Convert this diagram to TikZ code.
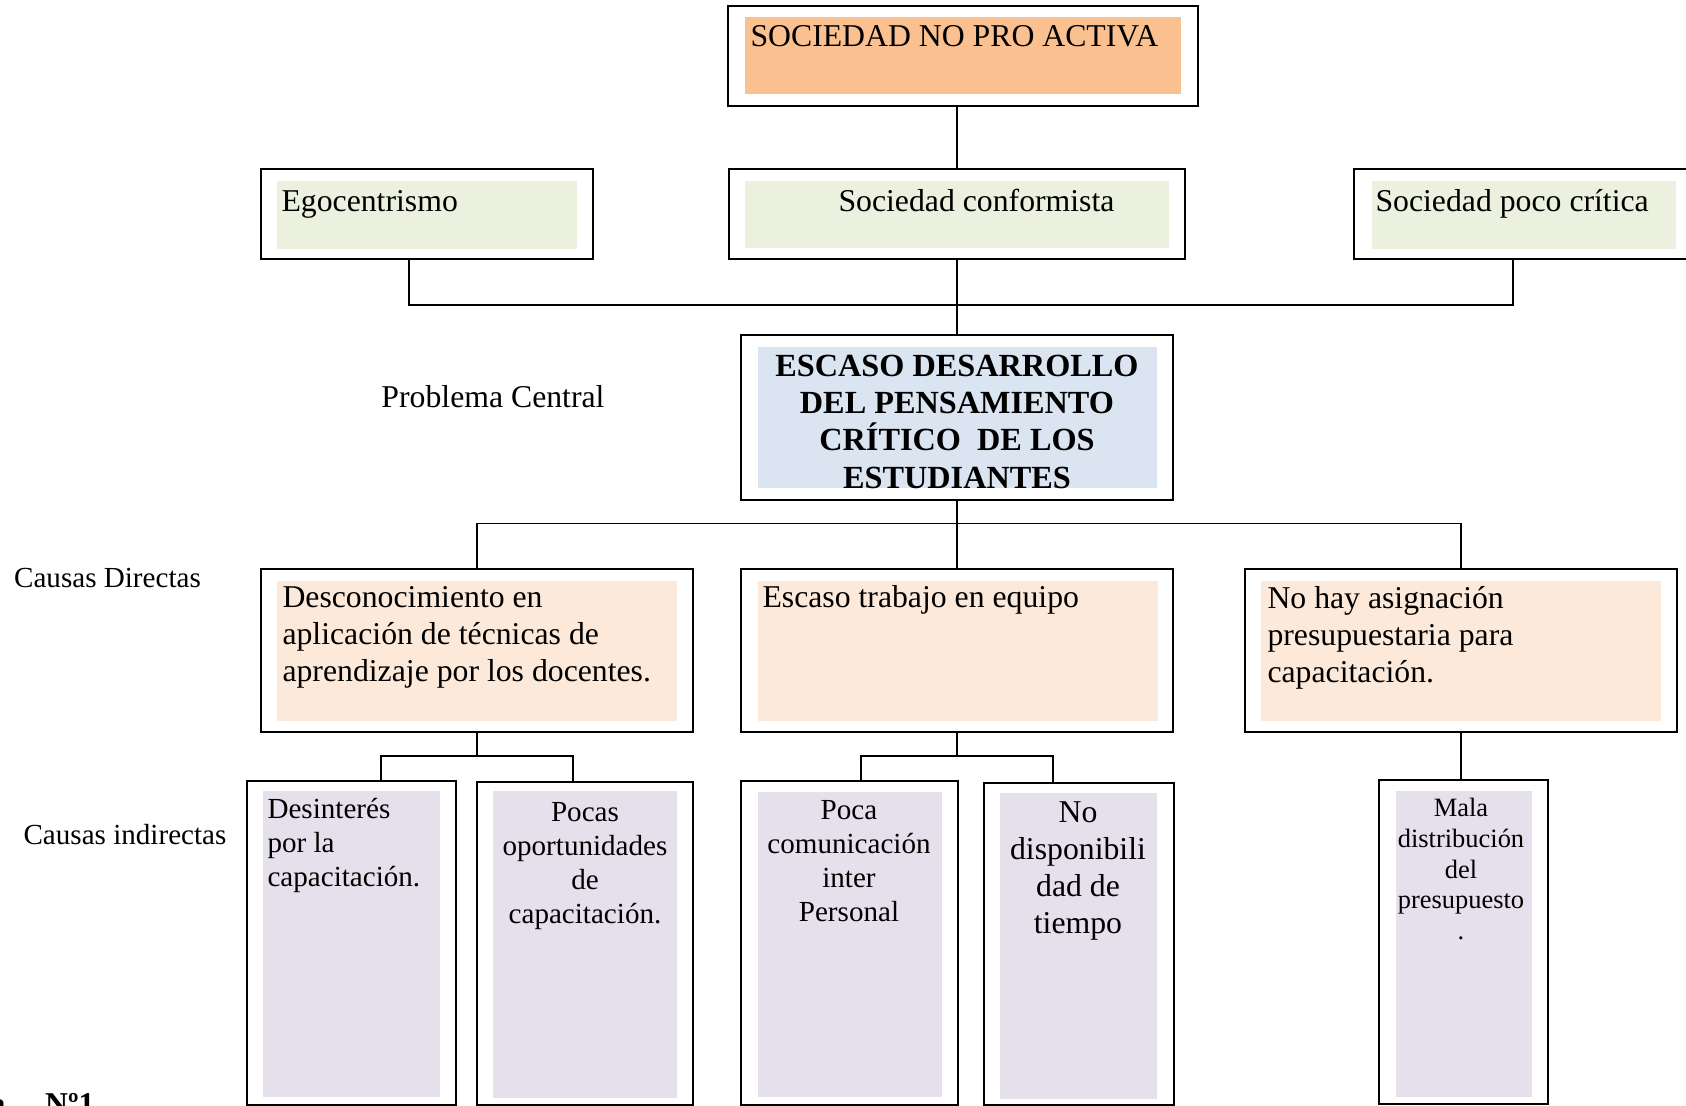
\documentclass[tikz,border=0pt]{standalone}
\usepackage{fontspec}
\setmainfont{Liberation Serif}
\usetikzlibrary{positioning, calc}
\definecolor{naranja}{RGB}{250,192,144}
\definecolor{verde}{RGB}{235,241,222}
\definecolor{azul}{RGB}{219,229,241}
\definecolor{durazno}{RGB}{253,233,217}
\definecolor{lila}{RGB}{229,224,236}

\begin{document}
\begin{tikzpicture}[x=0.378pt, y=-0.378pt,
            marco/.style 2 args={rectangle, draw=black, line width=0.7pt, fill=white, inner sep=0pt, minimum width=#1*0.378pt, minimum height=#2*0.378pt},
            relleno/.style n args={3}{rectangle, fill=#1, inner sep=0pt, minimum width=#2*0.378pt, minimum height=#3*0.378pt},
            rotulo/.style={inner sep=0pt, font=\fontsize{12}{14}\selectfont},
            causa/.style={inner sep=0pt, anchor=north west, align=left, font=\fontsize{12}{14}\selectfont},
            indirecta/.style={inner sep=0pt, anchor=north, align=center, font=\fontsize{11}{12.85}\selectfont},
            etiqueta/.style={inner sep=0pt, font=\fontsize{11}{13}\selectfont},
            link/.style={line width=0.7pt, black}
        ]
            \useasboundingbox (0,0) rectangle (1686,1106);
            \clip (0,0) rectangle (1686,1106);

            % efectos
            \node[marco={470}{100}] (arriba) at (963,56) {};
            \node[relleno={naranja}{436}{77}] (arribaf) at (963,55.5) {};
            \node[rotulo, anchor=base west] (arribat) at (750,47) {SOCIEDAD NO PRO ACTIVA};

            \node[marco={332}{90}] (ego) at (427,214) {};
            \node[relleno={verde}{300}{68}] (egof) at (427,215) {};
            \node[rotulo, anchor=base west] (egot) at (281,212) {Egocentrismo};

            \node[marco={456}{90}] (conf) at (957,214) {};
            \node[relleno={verde}{424}{67}] (conff) at (957,214.5) {};
            \node[rotulo, anchor=base west] (conft) at (838,212) {Sociedad conformista};

            \node[marco={346}{90}] (poca) at (1527,214) {};
            \node[relleno={verde}{304}{68}] (pocaf) at (1524,215) {};
            \node[rotulo, anchor=base west] (pocat) at (1375,212) {Sociedad poco crítica};

            % problema central
            \node[marco={432}{165}] (prob) at (957,417.5) {};
            \node[relleno={azul}{399}{141}] (probf) at (957.5,417.5) {};
            \node[inner sep=0pt, anchor=north, align=center, font=\fontsize{12.2}{14}\selectfont\bfseries] (probt) at (957,355)
                {ESCASO DESARROLLO\\DEL PENSAMIENTO\\CRÍTICO\ \ DE LOS\\ESTUDIANTES};
            \node[rotulo] (central) at (493,397) {Problema Central};

            % causas directas
            \node[etiqueta] (directas) at (107.5,578.5) {Causas Directas};

            \node[marco={432}{163}] (dc1) at (477,650.5) {};
            \node[relleno={durazno}{400}{140}] (dc1f) at (477,651) {};
            \node[causa] (dc1t) at (282,586) {Desconocimiento en\\aplicación de técnicas de\\aprendizaje por los docentes.};

            \node[marco={432}{163}] (dc2) at (957,650.5) {};
            \node[relleno={durazno}{400}{140}] (dc2f) at (958,651) {};
            \node[rotulo, anchor=base west] (dc2t) at (762,608) {Escaso trabajo en equipo};

            \node[marco={432}{163}] (dc3) at (1461,650.5) {};
            \node[relleno={durazno}{400}{140}] (dc3f) at (1461,651) {};
            \node[causa] (dc3t) at (1267,586) {No hay asignación\\presupuestaria para\\capacitación.};

            % causas indirectas
            \node[etiqueta] (indirectas) at (125,834.5) {Causas indirectas};

            \node[marco={209}{324}] (ia) at (351.5,943) {};
            \node[relleno={lila}{177}{306}] (iaf) at (351.5,944) {};
            \node[indirecta, anchor=north west, align=left] (iat) at (267,798) {Desinterés\\por la\\capacitación.};

            \node[marco={216}{323}] (ib) at (585,943.5) {};
            \node[relleno={lila}{184}{307}] (ibf) at (585,944.5) {};
            \node[indirecta] (ibt) at (585,801.5) {Pocas\\oportunidades\\de\\capacitación.};

            \node[marco={217}{324}] (ic) at (849.5,943) {};
            \node[relleno={lila}{184}{305}] (icf) at (850,944.5) {};
            \node[indirecta] (ict) at (849,799.5) {Poca\\comunicación\\inter\\Personal};

            \node[marco={190}{322}] (id) at (1079,944) {};
            \node[relleno={lila}{157}{306}] (idf) at (1078.5,946) {};
            \node[indirecta, font=\fontsize{12}{14}\selectfont] (idt) at (1078,801) {No\\disponibili\\dad de\\tiempo};

            \node[marco={169}{324}] (ie) at (1463.5,942) {};
            \node[relleno={lila}{136}{306}] (ief) at (1464,944) {};
            \node[indirecta, font=\fontsize{10}{11.6}\selectfont] (iet) at (1461,798) {Mala\\distribución\\del\\presupuesto\\.};

            \node[inner sep=0pt, anchor=base east, font=\fontsize{12}{14}\selectfont\bfseries] (fig) at (95,1114) {Figura\hspace{15pt}Nº1};

            % conectores
            \draw[link] (conf.north) -- (conf.north |- arriba.south);
            \draw[link] (conf.south) -- (prob.north);
            \draw[link] ($(ego.south)+(-18,0)$) -- ++(0,45) -| ($(poca.south)+(-14,0)$);

            \draw[link] (prob.south) -- ++(0,22.6) coordinate (nudo);
            \draw[link] (dc1.north) |- (nudo) -| (dc3.north);
            \draw[link] (nudo) -- (dc2.north);

            \draw[link] (dc1.south) -- ++(0,23) coordinate (nudoA);
            \draw[link] ($(ia.north)+(29.5,0)$) |- (nudoA) -| ($(ib.north)+(-12,0)$);
            \draw[link] (dc2.south) -- ++(0,23) coordinate (nudoB);
            \draw[link] ($(ic.north)+(11.5,0)$) |- (nudoB) -| ($(id.north)+(-26,0)$);
            \draw[link] (dc3.south) -- (dc3.south |- ie.north);
        \end{tikzpicture}
\end{document}
